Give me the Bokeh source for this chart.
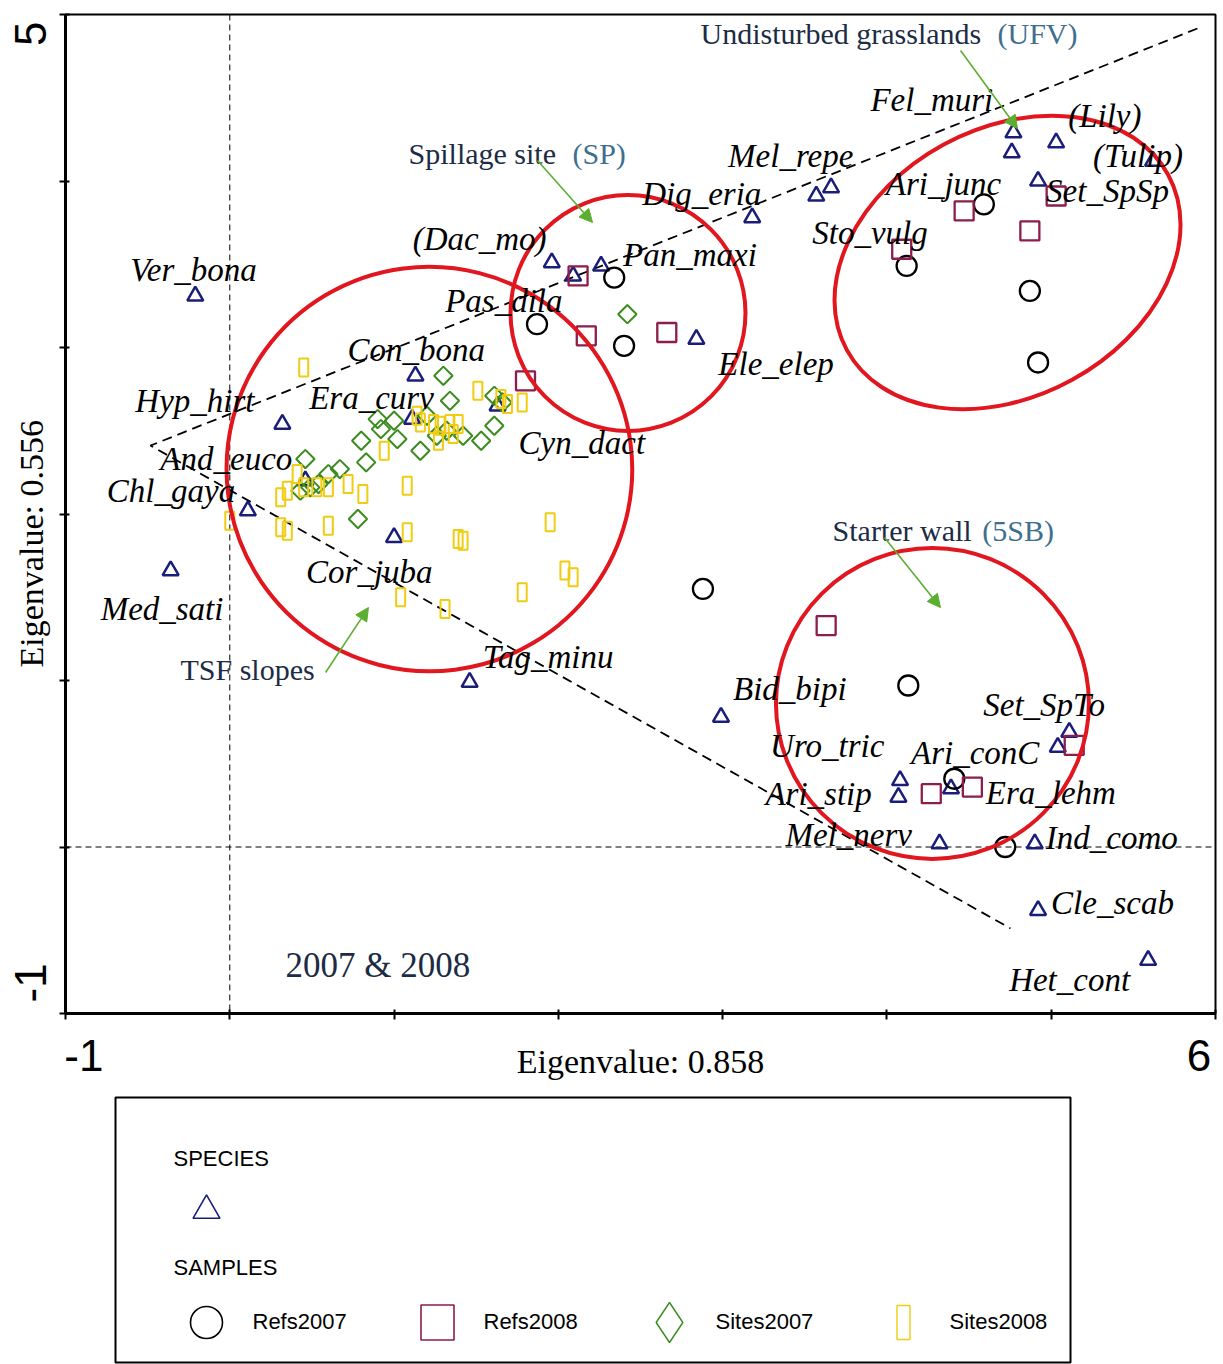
import math

from bokeh.core.properties import value
from bokeh.embed import file_html
from bokeh.layouts import column
from bokeh.models import Arrow, ColumnDataSource, FixedTicker, NormalHead, Range1d, Span
from bokeh.plotting import figure
from bokeh.resources import INLINE

# ---------------------------------------------------------------------------
# Ordination scores: axis 1 (x) and axis 2 (y)
# ---------------------------------------------------------------------------
species = [
    "Ver_bona", "Hyp_hirt", "Con_bona", "Era_curv", "And_euco", "Chl_gaya",
    "Med_sati", "Cor_juba", "Tag_minu", "Cyn_dact", "(Dac_mo)", "Pas_dila",
    "Pan_maxi", "Ele_elep", "Dig_eria", "Mel_repe", "Sto_vulg", "Fel_muri",
    "Ari_junc", "(Lily)", "(Tulip)", "Set_SpSp", "Bid_bipi", "Uro_tric",
    "Ari_stip", "Ari_conC", "Set_SpTo", "Era_lehm", "Mel_nerv", "Ind_como",
    "Cle_scab", "Het_cont",
]
species_x = [
    -0.21, 0.32, 1.13, 1.11, 0.46, 0.11,
    -0.36, 1.00, 1.46, 1.63, 1.96, 2.09,
    2.26, 2.84, 3.18, 3.66, 3.57, 4.77,
    4.76, 5.03, 5.62, 4.92, 2.99, 4.08,
    4.07, 4.39, 5.11, 5.04, 4.32, 4.90,
    4.92, 5.59,
]
species_y = [
    3.31, 2.54, 2.83, 2.57, 2.20, 2.02,
    1.66, 1.86, 0.99, 2.65, 3.51, 3.43,
    3.49, 3.05, 3.78, 3.96, 3.91, 4.29,
    4.17, 4.23, 4.12, 4.00, 0.78, 0.40,
    0.30, 0.35, 0.69, 0.60, 0.02, 0.02,
    -0.38, -0.68,
]

refs2007_x = [2.34, 1.87, 2.40, 4.59, 4.12, 4.87, 4.92, 2.88, 4.13, 4.41, 4.72]
refs2007_y = [3.42, 3.14, 3.01, 3.86, 3.49, 3.34, 2.91, 1.55, 0.97, 0.41, 0.00]

refs2008_x = [2.12, 2.17, 2.66, 1.80, 4.47, 5.03, 4.87, 4.09, 3.63, 4.27, 4.52, 5.14]
refs2008_y = [3.43, 3.07, 3.09, 2.80, 3.82, 3.91, 3.70, 3.59, 1.33, 0.32, 0.36, 0.61]

sites2007_x = [2.42, 1.30, 1.34, 1.61, 1.66, 0.90, 1.00, 0.92, 1.20, 1.32,
               1.61, 1.53, 1.02, 1.16, 0.80, 0.83, 0.67, 0.60, 0.46, 1.42,
               1.26, 0.78, 0.54, 0.49, 0.43]
sites2007_y = [3.20, 2.83, 2.68, 2.71, 2.67, 2.57, 2.56, 2.51, 2.59, 2.50,
               2.53, 2.44, 2.45, 2.38, 2.44, 2.31, 2.27, 2.24, 2.33, 2.47,
               2.47, 1.97, 2.18, 2.16, 2.14]

sites2008_x = [0.45, 1.51, 1.78, 1.14, 1.16, 1.24, 1.28, 1.34, 1.39, 1.36,
               1.27, 0.94, 1.08, 0.81, 0.41, 0.35, 0.31, 0.45, 0.53, 0.60,
               0.72, 0.00, 0.31, 0.35, 0.60, 1.08, 1.39, 1.42, 1.95, 2.04,
               2.09, 1.78, 1.04, 1.31, 1.65, 1.69]
sites2008_y = [2.88, 2.74, 2.67, 2.59, 2.55, 2.54, 2.53, 2.54, 2.54, 2.48,
               2.44, 2.38, 2.17, 2.12, 2.24, 2.14, 2.10, 2.16, 2.16, 2.16,
               2.18, 1.96, 1.92, 1.90, 1.93, 1.89, 1.85, 1.84, 1.95, 1.66,
               1.62, 1.53, 1.50, 1.43, 2.69, 2.66]

sample_groups = ["Refs2007", "Refs2008", "Sites2007", "Sites2008"]

x_ticks = [-1, 0, 1, 2, 3, 4, 5, 6]
y_ticks = [-1, 0, 1, 2, 3, 4, 5]
x_title = "Eigenvalue: 0.858"
y_title = "Eigenvalue: 0.556"

# ---------------------------------------------------------------------------
# Styling and layout
# ---------------------------------------------------------------------------
NAVY = "#1b1e78"
MAROON = "#8c1d4c"
GREEN = "#3b8c1e"
YELLOW = "#f0cc12"
RED = "#e2161e"
ARROW_GREEN = "#5cae30"
DARK = "#1c2c44"
TEAL = "#3e6f8e"

SERIF = "Liberation Serif"
SANS = "Liberation Sans"
NBSP = "\u00a0"
THIN = "\u2009"

FRAME_W, FRAME_H = 1150, 999
X0, X1 = -1, 6
Y0, Y1 = -1, 5
PX_X = FRAME_W / (X1 - X0)
PX_Y = FRAME_H / (Y1 - Y0)
BORDER_L, BORDER_R, BORDER_T, BORDER_B = 65, 8, 14, 80

# label placement relative to each species symbol (pixels: right, down)
label_offsets = {
    "Ver_bona": (-65, -26), "Hyp_hirt": (-147, -23), "Con_bona": (-68, -26),
    "Era_curv": (-103, -21), "And_euco": (-145, -22), "Chl_gaya": (-141, -20),
    "Med_sati": (-70, 38), "Cor_juba": (-88, 35), "Tag_minu": (13, -25),
    "Cyn_dact": (21, 37), "(Dac_mo)": (-139, -24), "Pas_dila": (-128, 25),
    "Pan_maxi": (22, -11), "Ele_elep": (22, 25), "Dig_eria": (-110, -24),
    "Mel_repe": (-103, -32), "Sto_vulg": (-4, 37), "Fel_muri": (-143, -33),
    "Ari_junc": (-126, 31), "(Lily)": (12, -27), "(Tulip)": (-60, -5),
    "Set_SpSp": (8, 10), "Bid_bipi": (12, -28), "Uro_tric": (-130, -34),
    "Ari_stip": (-133, -3), "Ari_conC": (-40, -36), "Set_SpTo": (-86, -27),
    "Era_lehm": (-72, 46), "Mel_nerv": (-154, -9), "Ind_como": (11, -6),
    "Cle_scab": (13, -7), "Het_cont": (-139, 20),
}

p = figure(
    frame_width=FRAME_W, frame_height=FRAME_H,
    x_range=Range1d(X0, X1), y_range=Range1d(Y0, Y1),
    min_border_left=BORDER_L, min_border_right=BORDER_R,
    min_border_top=BORDER_T, min_border_bottom=BORDER_B,
    output_backend="svg", toolbar_location=None,
    background_fill_color="white", border_fill_color="white",
)
p.xgrid.visible = False
p.ygrid.visible = False
p.outline_line_color = "black"
p.outline_line_width = 2

# only the end values are printed; non-breaking padding nudges them inward
x_labels = {t: "" for t in x_ticks}
x_labels[x_ticks[0]] = NBSP * 3 + "-1"
x_labels[x_ticks[-1]] = "6" + NBSP
y_labels = {t: "" for t in y_ticks}
y_labels[y_ticks[0]] = NBSP * 5 + "-1"
y_labels[y_ticks[-1]] = "5" + NBSP + THIN

for ax, ticks, labels, title, lab_off, title_off in (
        (p.xaxis[0], x_ticks, x_labels, x_title, 11, -40),
        (p.yaxis[0], y_ticks, y_labels, y_title + NBSP * 7, 5, -47)):
    ax.ticker = FixedTicker(ticks=ticks)
    ax.major_label_overrides = labels
    ax.major_label_text_font = SANS
    ax.major_label_text_font_size = "44px"
    ax.major_label_text_color = "black"
    ax.major_label_standoff = lab_off
    ax.minor_tick_line_color = None
    ax.major_tick_in = 4
    ax.major_tick_out = 6
    ax.major_tick_line_width = 2
    ax.axis_line_width = 3
    ax.axis_label = title
    ax.axis_label_text_font = SERIF
    ax.axis_label_text_font_style = "normal"
    ax.axis_label_text_font_size = "34px"
    ax.axis_label_text_color = "black"
    ax.axis_label_standoff = title_off
p.yaxis[0].major_label_orientation = "vertical"

# origin cross-hairs
for dim in ("height", "width"):
    p.add_layout(Span(location=0, dimension=dim, line_color="black", line_width=1,
                      line_dash="6 4", level="underlay"))

# gradient wedge
p.line(x=[5.89, -0.483, 4.752], y=[4.916, 2.411, -0.489], line_color="black",
       line_width=1.8, line_dash="10 6")

# species and samples
p.scatter(species_x, species_y, marker="triangle", size=16, fill_color=None,
          line_color=NAVY, line_width=2.5)
p.scatter(refs2007_x, refs2007_y, marker="circle", size=20, fill_color=None,
          line_color="black", line_width=2.3)
p.scatter(refs2008_x, refs2008_y, marker="square", size=19, fill_color=None,
          line_color=MAROON, line_width=2.3)
p.scatter(sites2007_x, sites2007_y, marker="square", size=13, angle=math.pi / 4,
          fill_color=None, line_color=GREEN, line_width=2)
p.rect(sites2008_x, sites2008_y, width=9, height=18, width_units="screen",
       height_units="screen", fill_color=None, line_color=YELLOW, line_width=2)

# community groupings
groups = ColumnDataSource(dict(
    x=[1.215, 2.424, 4.734, 4.277],
    y=[2.27, 3.207, 3.511, 0.862],
    w=[2.47, 1.43, 2.228, 1.905],
    h=[2.43, 1.417, 1.61, 1.868],
    a=[-0.25, 0.0, 0.5, 0.0],
))
p.ellipse(x="x", y="y", width="w", height="h", angle="a", source=groups,
          fill_color=None, line_color=RED, line_width=4)

# species names
lab = ColumnDataSource(dict(
    x=[sx + label_offsets[n][0] / PX_X for n, sx in zip(species, species_x)],
    y=[sy - label_offsets[n][1] / PX_Y for n, sy in zip(species, species_y)],
    t=species,
))
p.text(x="x", y="y", text="t", source=lab, text_font=value(SERIF),
       text_font_style="italic", text_font_size="33px", text_color="black",
       text_align="left", text_baseline="middle")

# group call-outs
notes = [
    ("Undisturbed grasslands", 2.865, 4.886, DARK),
    ("(UFV)", 4.673, 4.886, TEAL),
    ("Spillage site", 1.088, 4.165, DARK),
    ("(SP)", 2.086, 4.165, TEAL),
    ("Starter wall", 3.669, 1.901, DARK),
    ("(5SB)", 4.58, 1.901, TEAL),
    ("TSF slopes", -0.30, 1.066, DARK),
]
p.text(x=[n[1] for n in notes], y=[n[2] for n in notes], text=[n[0] for n in notes],
       text_color=[n[3] for n in notes], text_font=value(SERIF), text_font_size="30px",
       text_align="left", text_baseline="middle")

arrows = [
    (4.448, 4.784, 4.795, 4.315),
    (1.873, 4.123, 2.208, 3.751),
    (3.985, 1.859, 4.326, 1.438),
    (0.583, 1.048, 0.844, 1.438),
]
for xs, ys, xe, ye in arrows:
    p.add_layout(Arrow(x_start=xs, y_start=ys, x_end=xe, y_end=ye,
                       line_color=ARROW_GREEN, line_width=1.6,
                       end=NormalHead(size=13, fill_color=ARROW_GREEN,
                                      line_color=ARROW_GREEN, line_width=1)))

p.text(x=[0.339], y=[-0.712], text=["2007 & 2008"], text_font=value(SERIF),
       text_font_size="35px", text_color=DARK, text_align="left", text_baseline="middle")

# ---------------------------------------------------------------------------
# Symbol key (pixel coordinates inside a strip with the same side borders)
# ---------------------------------------------------------------------------
KEY_H = 1364 - (BORDER_T + FRAME_H + BORDER_B)
key = figure(
    frame_width=FRAME_W, frame_height=KEY_H,
    x_range=Range1d(0, FRAME_W), y_range=Range1d(0, KEY_H),
    x_axis_type=None, y_axis_type=None,
    min_border_left=BORDER_L, min_border_right=BORDER_R,
    min_border_top=0, min_border_bottom=0,
    output_backend="svg", toolbar_location=None,
    background_fill_color="white", border_fill_color="white",
)
key.outline_line_color = None
key.grid.visible = False

key.quad(left=[50], right=[1005], bottom=[2], top=[267], fill_color=None,
         line_color="black", line_width=2)
key.text(x=[108, 108], y=[206, 97], text=["SPECIES", "SAMPLES"], text_font=value(SANS),
         text_font_size="22px", text_color="black", text_baseline="middle")
key.scatter([141], [154], marker="triangle", size=27, fill_color=None,
            line_color=NAVY, line_width=1.6)

item_x = [141, 372, 604, 838]
key.scatter([item_x[0]], [42], marker="circle", size=32, fill_color=None,
            line_color="black", line_width=1.6)
key.rect([item_x[1]], [42], width=33, height=35, fill_color=None,
         line_color=MAROON, line_width=1.6)
key.scatter([item_x[2]], [42], marker="diamond", size=40, fill_color=None,
            line_color=GREEN, line_width=1.4)
key.rect([item_x[3]], [42], width=13, height=34, fill_color=None,
         line_color=YELLOW, line_width=1.4)
key.text(x=[x + 46 for x in item_x], y=[43] * 4, text=sample_groups,
         text_font=value(SANS), text_font_size="22px", text_color="black",
         text_baseline="middle")

layout = column(p, key)
open("out.html", "w").write(file_html(layout, INLINE))
